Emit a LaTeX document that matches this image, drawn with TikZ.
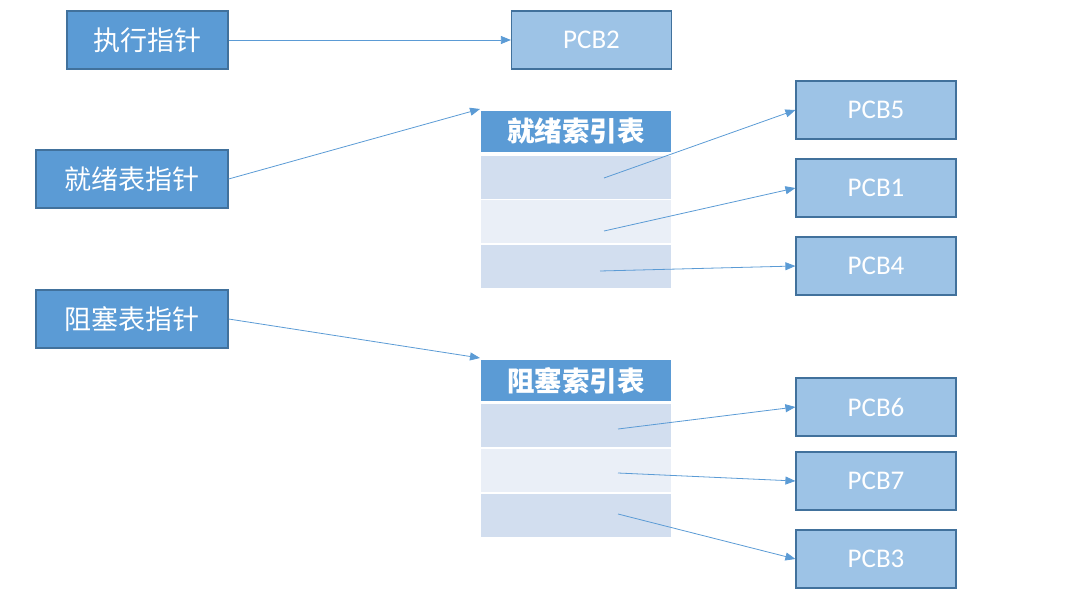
\documentclass[tikz,border=0pt]{standalone}
\usepackage{fontspec}
\newfontfamily\cjk{Noto Sans CJK SC}
\setmainfont{Carlito}
\usetikzlibrary{arrows.meta,calc}
\definecolor{dblue}{HTML}{5B9BD5}
\definecolor{lblue}{HTML}{9DC3E6}
\definecolor{bord}{HTML}{41719C}
\definecolor{rowa}{HTML}{D2DEEF}
\definecolor{rowb}{HTML}{EAEFF7}
\tikzset{
  ptr/.style={draw=bord, line width=1.2pt, fill=dblue, text=white, minimum height=58pt, inner sep=0pt, font=\cjk\fontsize{27}{30}\selectfont},
  pcb/.style={draw=bord, line width=1.2pt, fill=lblue, text=white, minimum width=160pt, minimum height=58pt, inner sep=0pt, font=\fontsize{27}{30}\selectfont},
  hdr/.style={fill=dblue, text=white, minimum width=190pt, minimum height=41pt, inner sep=0pt, font=\cjk\bfseries\fontsize{27.5}{30}\selectfont},
  rowA/.style={fill=rowa, minimum width=190pt, minimum height=43pt, inner sep=0pt},
  rowB/.style={fill=rowb, minimum width=190pt, minimum height=43pt, inner sep=0pt},
  conn/.style={draw=dblue, line width=0.8pt, -{Triangle[length=10pt,width=8pt]}}
}
\begin{document}
\begin{tikzpicture}[x=1pt,y=-1pt]
\useasboundingbox (0,0) rectangle (1086,615);
% pointers
\node[ptr, minimum width=161pt] (exec) at (147.5,40) {执行指针};
\node[ptr, minimum width=192pt] (ready) at (132,179) {就绪表指针};
\node[ptr, minimum width=192pt] (block) at (132,319) {阻塞表指针};
% PCB2
\node[pcb] (pcb2) at (591.5,40) {PCB2};
% ready table
\node[hdr] (rh) at (576,131.5) {就绪索引表};
\node[rowA] (r1) at (576,177) {};
\node[rowB] (r2) at (576,221) {};
\node[rowA] (r3) at (576,266.5) {};
% blocked table
\node[hdr] (bh) at (576,380.5) {阻塞索引表};
\node[rowA] (b1) at (576,425.5) {};
\node[rowB] (b2) at (576,470) {};
\node[rowA] (b3) at (576,515.5) {};
% PCBs
\node[pcb] (pcb5) at (876,110) {PCB5};
\node[pcb] (pcb1) at (876,188) {PCB1};
\node[pcb] (pcb4) at (876,266) {PCB4};
\node[pcb] (pcb6) at (876,407) {PCB6};
\node[pcb] (pcb7) at (876,481) {PCB7};
\node[pcb] (pcb3) at (876,559) {PCB3};
% coordinates
\coordinate (rin) at (480,109);
\coordinate (bin) at (480,358);
\coordinate (s1) at (604,178);
\coordinate (s2) at (604,231);
\coordinate (s3) at (600,271);
\coordinate (t1) at (618,429);
\coordinate (t2) at (618,473);
\coordinate (t3) at (618,514);
% connectors
\draw[conn] (exec.east) -- (pcb2.west);
\draw[conn] (ready.east) -- (rin);
\draw[conn] (block.east) -- (bin);
\draw[conn] (s1) -- (pcb5.west);
\draw[conn] (s2) -- (pcb1.west);
\draw[conn] (s3) -- (pcb4.west);
\draw[conn] (t1) -- (pcb6.west);
\draw[conn] (t2) -- (pcb7.west);
\draw[conn] (t3) -- (pcb3.west);
\end{tikzpicture}
\end{document}
